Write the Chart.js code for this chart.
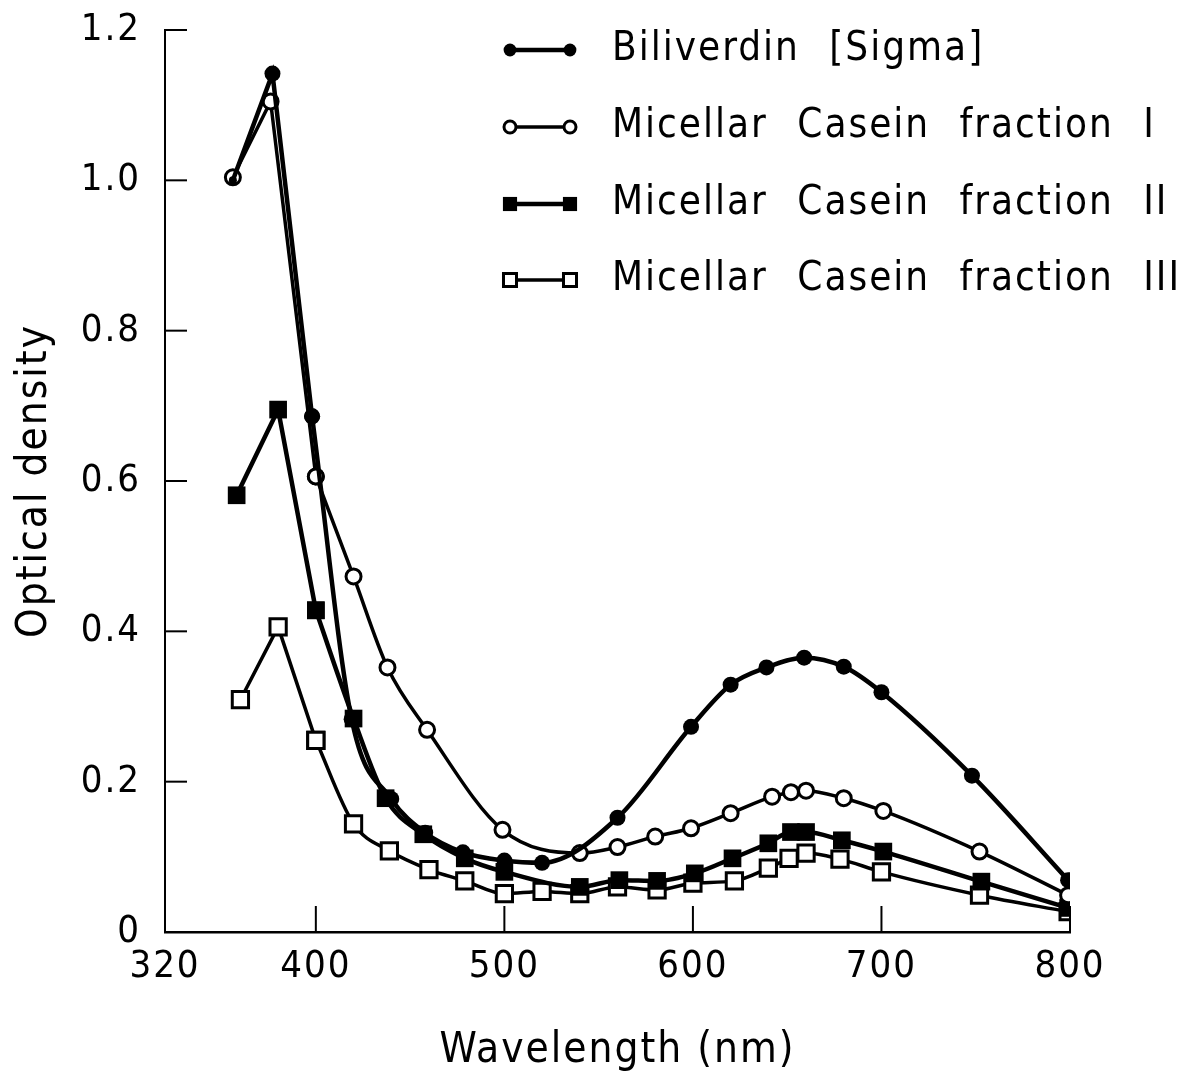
<!DOCTYPE html>
<html>
<head>
<meta charset="utf-8">
<title>Optical density spectra</title>
<script src="https://cdn.jsdelivr.net/npm/chart.js@4/dist/chart.umd.min.js"></script>
<style>
  html, body { margin: 0; padding: 0; background: #fff; }
  canvas { display: block; }
</style>
</head>
<body>
<canvas id="spectrum" width="1193" height="1080"></canvas>
<script>
const FONT = "'DejaVu Sans Condensed', 'DejaVu Sans', sans-serif"

// tick labels
const xTicks = [320, 400, 500, 600, 700, 800]
const yTicks = [0, 0.2, 0.4, 0.6, 0.8, 1.0, 1.2]

// series (wavelength in nm, optical density)
const biliverdinX = [356, 377, 398, 419, 440, 458, 478, 500, 520, 560, 599, 620, 639, 659, 680, 700, 748, 799]
const biliverdinY = [1.00, 1.142, 0.686, 0.283, 0.177, 0.132, 0.106, 0.095, 0.092, 0.152, 0.273, 0.329, 0.352, 0.365, 0.353, 0.319, 0.208, 0.069]

const fraction1X = [356, 376, 400, 420, 438, 459, 499, 540, 560, 580, 599, 620, 642, 652, 660, 680, 701, 752, 799]
const fraction1Y = [1.004, 1.105, 0.606, 0.473, 0.352, 0.269, 0.136, 0.105, 0.113, 0.127, 0.138, 0.158, 0.180, 0.186, 0.188, 0.178, 0.161, 0.107, 0.049]

const fraction2X = [358, 380, 400, 420, 437, 457, 479, 500, 540, 561, 581, 601, 621, 640, 652, 660, 679, 701, 753, 799]
const fraction2Y = [0.581, 0.695, 0.428, 0.284, 0.178, 0.130, 0.098, 0.080, 0.060, 0.069, 0.068, 0.078, 0.098, 0.118, 0.133, 0.133, 0.122, 0.107, 0.067, 0.032]

const fraction3X = [360, 380, 400, 420, 439, 460, 479, 500, 520, 540, 560, 581, 600, 622, 640, 651, 660, 678, 700, 752, 799]
const fraction3Y = [0.309, 0.406, 0.255, 0.144, 0.108, 0.083, 0.068, 0.051, 0.054, 0.051, 0.060, 0.056, 0.065, 0.068, 0.085, 0.098, 0.105, 0.097, 0.080, 0.049, 0.027]

const seriesNames = ['Biliverdin [Sigma]', 'Micellar Casein fraction I', 'Micellar Casein fraction II', 'Micellar Casein fraction III']

/**
 * Look of each series: marker shape, fill, sizes.
 */
const series = [
  { name: seriesNames[0], xs: biliverdinX, ys: biliverdinY, style: 'circle', fill: '#000', radius: 8, border: 0, line: 4.5 },
  { name: seriesNames[1], xs: fraction1X, ys: fraction1Y, style: 'circle', fill: '#fff', radius: 7.5, border: 3, line: 3.5 },
  { name: seriesNames[2], xs: fraction2X, ys: fraction2Y, style: 'rect', fill: '#000', radius: 12.5, border: 0, line: 4.5 },
  { name: seriesNames[3], xs: fraction3X, ys: fraction3Y, style: 'rect', fill: '#fff', radius: 11.5, border: 3, line: 3.5 },
]

const toPoints = (xs, ys) => xs.map((x, i) => ({ x, y: ys[i] }))

/**
 * Each curve: a straight rise to the first peak, then a smooth fall and second band.
 */
const datasets = []
series.forEach((s, k) => {
  const pts = toPoints(s.xs, s.ys)
  const common = {
    label: s.name,
    borderColor: '#000',
    borderWidth: s.line,
    pointStyle: s.style,
    pointBackgroundColor: s.fill,
    pointBorderColor: '#000',
    pointBorderWidth: s.border,
    order: k,
  }
  // biliverdin first point sits as a dot inside the open circle
  const headRadius = k === 0 ? [4, s.radius, s.radius] : s.radius
  datasets.push({ ...common, data: pts.slice(0, 3), tension: 0, pointRadius: headRadius })
  datasets.push({ ...common, data: pts.slice(2), cubicInterpolationMode: 'monotone', pointRadius: s.radius })
})

/**
 * A little letter spacing everywhere, like the lettering stencil of the original.
 */
const spacedText = {
  id: 'spacedText',
  beforeDraw(chart) {
    if ('letterSpacing' in chart.ctx) chart.ctx.letterSpacing = '2px'
  },
}

/**
 * Inward tick marks on both axes.
 */
const inwardTicks = {
  id: 'inwardTicks',
  afterDatasetsDraw(chart) {
    const { ctx, scales: { x, y }, chartArea } = chart
    ctx.save()
    ctx.strokeStyle = '#000'
    ctx.lineWidth = 2
    x.ticks.forEach((t) => {
      if (t.value === xTicks[0]) return
      const px = x.getPixelForValue(t.value)
      ctx.beginPath()
      ctx.moveTo(px, chartArea.bottom)
      ctx.lineTo(px, chartArea.bottom - 26)
      ctx.stroke()
    })
    y.ticks.forEach((t) => {
      if (t.value === yTicks[0]) return
      const py = y.getPixelForValue(t.value)
      ctx.beginPath()
      ctx.moveTo(chartArea.left, py)
      ctx.lineTo(chartArea.left + 22, py)
      ctx.stroke()
    })
    ctx.restore()
  },
}

/**
 * Legend drawn inside the plot, upper right, with a line between two markers.
 */
const dumbbellLegend = {
  id: 'dumbbellLegend',
  afterDraw(chart) {
    const { ctx } = chart
    const x0 = 510
    const x1 = 570
    const textX = 612
    const rowY = [50, 127, 204, 280]
    ctx.save()
    series.forEach((s, i) => {
      const yy = rowY[i]
      ctx.strokeStyle = '#000'
      ctx.lineWidth = s.line
      ctx.beginPath()
      ctx.moveTo(x0, yy)
      ctx.lineTo(x1, yy)
      ctx.stroke()
      ;[x0, x1].forEach((px) => {
        ctx.fillStyle = s.fill
        ctx.strokeStyle = '#000'
        ctx.lineWidth = s.border
        Chart.helpers.drawPoint(ctx, { pointStyle: s.style, radius: s.radius * 0.8, borderWidth: s.border, rotation: 0 }, px, yy)
      })
      ctx.fillStyle = '#000'
      ctx.font = '40px ' + FONT
      ctx.textBaseline = 'middle'
      ctx.textAlign = 'left'
      if ('letterSpacing' in ctx) ctx.letterSpacing = '2px'
      if ('wordSpacing' in ctx) ctx.wordSpacing = '16px'
      ctx.fillText(s.name, textX, yy)
    })
    ctx.restore()
  },
}

Chart.defaults.font.family = FONT
Chart.defaults.color = '#000'

const spectrumChart = new Chart(document.querySelector('#spectrum'), {
  type: 'line',
  data: { datasets },
  options: {
    responsive: false,
    animation: false,
    layout: { padding: { top: 30, right: 123, bottom: 0, left: 0 } },
    plugins: {
      legend: { display: false },
      tooltip: { enabled: false },
    },
    scales: {
      x: {
        type: 'linear',
        min: 320,
        max: 800,
        afterBuildTicks: (scale) => { scale.ticks = xTicks.map((value) => ({ value })) },
        afterFit: (scale) => {
          scale.height = 148
          scale.paddingLeft = 0
          scale.paddingRight = 0
        },
        grid: { display: false, drawTicks: false },
        border: { display: true, color: '#000', width: 2.5 },
        ticks: { font: { size: 38 }, padding: 12, maxRotation: 0, callback: (v) => String(v) },
        title: { display: true, text: 'Wavelength (nm)', font: { size: 42 }, padding: { top: 0, bottom: 4 } },
      },
      y: {
        type: 'linear',
        min: 0,
        max: 1.2,
        afterBuildTicks: (scale) => { scale.ticks = yTicks.map((value) => ({ value })) },
        afterFit: (scale) => {
          scale.width = 165
          scale.paddingTop = 0
          scale.paddingBottom = 0
        },
        grid: { display: false, drawTicks: false },
        border: { display: true, color: '#000', width: 2 },
        ticks: { font: { size: 38 }, padding: 24, callback: (v) => (v === 0 ? '0' : v.toFixed(1)) },
        title: { display: true, text: 'Optical density', font: { size: 42 }, padding: { top: 10, bottom: 0 } },
      },
    },
  },
  plugins: [spacedText, inwardTicks, dumbbellLegend],
})
</script>
</body>
</html>
